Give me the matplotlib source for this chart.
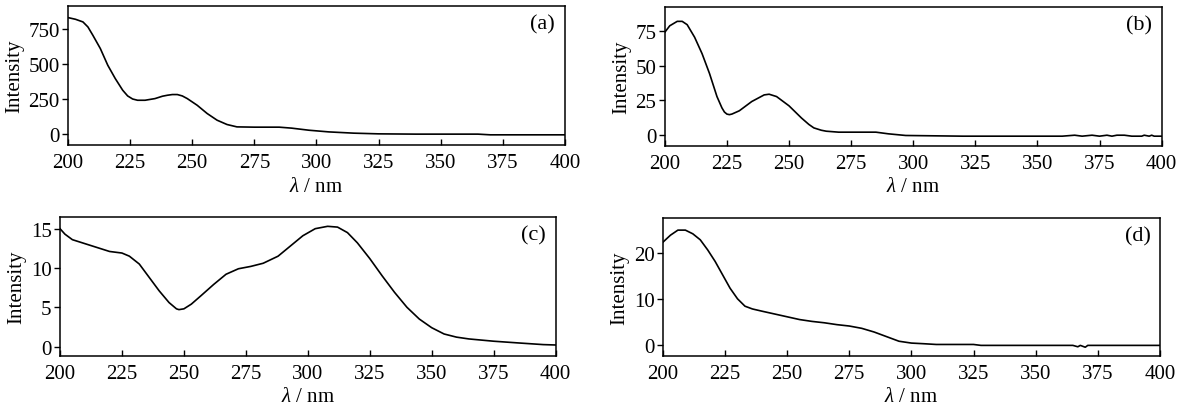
import matplotlib
matplotlib.use("Agg")
import matplotlib.pyplot as plt

plt.rcParams['font.family'] = ['Liberation Serif', 'DejaVu Serif']
plt.rcParams['mathtext.fontset'] = 'custom'
plt.rcParams['mathtext.it'] = 'Liberation Serif:italic'
plt.rcParams['mathtext.rm'] = 'Liberation Serif'

# (a) spectrum
wl_a = [200, 203, 206, 208, 210, 213, 216, 219, 222, 224, 226, 228, 231, 235, 238, 240, 242, 244,
        246, 248, 252, 256, 260, 264, 268, 275, 285, 290, 297, 305, 315, 325, 340, 365,
        370, 400]
int_a = [834, 822, 803, 767, 707, 612, 492, 397, 313, 272, 250, 241, 241, 253, 270, 277, 282, 282,
         272, 253, 205, 146, 98, 67, 50, 48, 48, 41, 26, 14, 5, 0, -2, -2,
         -7, -7]

# (b) spectrum
wl_b = [200, 202, 205, 207, 209, 212, 215, 218, 221, 223, 224, 225, 226, 227, 230, 235, 240,
        242, 245, 250, 255, 258, 260, 263, 265, 270, 285, 290, 297, 320, 360, 365, 368, 372,
        375, 378, 380, 382, 385, 388, 392, 393, 395, 396, 397, 400]
int_b = [74.3, 79.0, 82.2, 82.2, 79.8, 70.7, 58.8, 44.4, 27.7, 19.5, 16.5, 15.0, 14.6, 15.0, 17.4, 24.1, 28.9,
         29.4, 27.7, 21.0, 12.2, 7.5, 5.0, 3.3, 2.6, 1.9, 1.9, 0.7, -0.5, -1.0, -1.0, -0.3, -1.0, -0.3,
         -1.0, -0.3, -1.0, -0.3, -0.3, -1.0, -1.0, -0.3, -1.0, -0.3, -1.0, -1.0]

# (c) spectrum
wl_c = [200, 202, 205, 210, 215, 220, 225, 228, 232, 236, 240, 244, 247, 248, 250, 253,
        257, 262, 267, 272, 277, 282, 288, 293, 298, 303, 308, 312, 316, 320, 325,
        330, 335, 340, 345, 350, 355, 360, 365, 375, 385, 395, 400]
int_c = [15.0, 14.3, 13.6, 13.1, 12.6, 12.1, 11.9, 11.5, 10.5, 8.8, 7.1, 5.6, 4.8, 4.7, 4.8, 5.4,
         6.5, 7.9, 9.2, 9.9, 10.2, 10.6, 11.5, 12.8, 14.1, 15.0, 15.3, 15.2, 14.5, 13.2, 11.2,
         9.0, 6.9, 5.0, 3.5, 2.4, 1.6, 1.2, 0.97, 0.68, 0.46, 0.25, 0.2]

# (d) spectrum
wl_d = [200, 203, 206, 209, 212, 215, 218, 221, 224, 227, 230, 233, 236, 240, 245,
        250, 255, 260, 265, 270, 275, 280, 285, 290, 295, 300, 305, 310, 325, 328,
        365, 367, 368, 370, 371, 400]
int_d = [22.4, 23.9, 25.0, 25.0, 24.2, 22.9, 20.7, 18.2, 15.3, 12.4, 10.1, 8.5, 7.9, 7.4, 6.8,
         6.2, 5.6, 5.2, 4.9, 4.5, 4.2, 3.7, 2.9, 1.9, 0.9, 0.5, 0.36, 0.2, 0.2, 0.0,
         0.0, -0.3, 0.0, -0.4, 0.0, 0.0]

panels = [
    ('(a)', wl_a, int_a, [0.0567, 0.647, 0.414, 0.336], (-81, 917), [0, 250, 500, 750]),
    ('(b)', wl_b, int_b, [0.554, 0.645, 0.414, 0.336], (-8.1, 92.7), [0, 25, 50, 75]),
    ('(c)', wl_c, int_c, [0.050, 0.1377, 0.413, 0.336], (-1.2, 16.5), [0, 5, 10, 15]),
    ('(d)', wl_d, int_d, [0.5525, 0.1377, 0.414, 0.333], (-2.3, 27.6), [0, 10, 20]),
]
x_ticks = [200, 225, 250, 275, 300, 325, 350, 375, 400]

fig = plt.figure(figsize=(12, 4.14), dpi=100)

for tag, x, y, rect, ylim, yticks in panels:
    ax = fig.add_axes(rect)
    ax.plot(x, y, color='black', linewidth=1.2)
    ax.set_xlim(200, 400)
    ax.set_ylim(*ylim)
    ax.set_xticks(x_ticks)
    ax.set_yticks(yticks)
    ax.tick_params(axis='x', direction='in', length=4, width=1, labelsize=15, pad=6)
    ax.tick_params(axis='y', direction='out', length=4, width=1, labelsize=15, pad=2)
    for sp in ax.spines.values():
        sp.set_linewidth(1.1)
    ax.set_xlabel(r'$\lambda$ / nm', fontsize=15, labelpad=3)
    ax.set_ylabel('Intensity', fontsize=15, labelpad=3)
    ax.text(0.955, 0.87, tag, transform=ax.transAxes, ha='center', va='center', fontsize=16)

plt.savefig('out.png', dpi=100, facecolor='white')
plt.close()
